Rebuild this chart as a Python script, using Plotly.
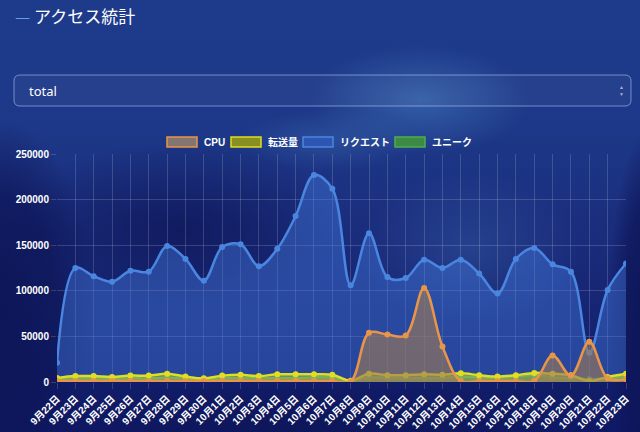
import base64
import plotly.graph_objects as go

# ---------------- data ----------------
dates = ["9月22日", "9月23日", "9月24日", "9月25日", "9月26日", "9月27日", "9月28日", "9月29日",
         "9月30日", "10月1日", "10月2日", "10月3日", "10月4日", "10月5日", "10月6日", "10月7日",
         "10月8日", "10月9日", "10月10日", "10月11日", "10月12日", "10月13日", "10月14日", "10月15日",
         "10月16日", "10月17日", "10月18日", "10月19日", "10月20日", "10月21日", "10月22日", "10月23日"]

cpu = [1500, 1000, 1000, 1000, 1000, 1000, 1000, 1000, 1000, 1000, 1000, 1000, 1000, 1000, 1000, 1000,
       500, 54000, 52000, 51000, 103000, 39000, 1000, 1000, 1000, 1000, 1000, 29000, 7000, 44000, 4000, 3000]

transfer = [4500, 6500, 6500, 5500, 7000, 7000, 9000, 6000, 4000, 7000, 8000, 6500, 8500, 8500, 8500, 8000,
            1500, 9000, 7500, 7500, 8500, 8000, 9500, 7500, 6000, 7500, 10000, 9000, 7500, 1000, 5500, 9000]

requests = [21000, 125000, 116000, 110000, 122000, 121000, 149000, 135000, 111000, 148000, 151000, 127000,
            146000, 182000, 227000, 212000, 106000, 163000, 115000, 114000, 134000, 125000, 134000, 119000,
            97000, 135000, 147000, 129000, 121000, 32000, 101000, 130000]

unique = [3000, 4000, 4000, 3500, 4000, 4000, 5000, 4000, 2500, 4000, 4500, 4000, 4500, 4500, 5000, 5000,
          1000, 5000, 4500, 4000, 4500, 4500, 6000, 5000, 4500, 6000, 8000, 5000, 4500, 3000, 4000, 6000]

y_ticks = [0, 50000, 100000, 150000, 200000, 250000]
series_names = ["CPU", "転送量", "リクエスト", "ユニーク"]

# ---------------- geometry ----------------
W, H = 640, 432
L, R, T, B = 57, 14, 154, 50
PW, PH = W - L - R, H - T - B


def px(x):
    return (x - L) / PW


def py(y):
    return (H - B - y) / PH


# ---------------- background image ----------------
svg = f'''<svg xmlns="http://www.w3.org/2000/svg" width="{W}" height="{H}" viewBox="0 0 {W} {H}">
<defs>
<linearGradient id="g0" x1="0" y1="0" x2="0" y2="1">
<stop offset="0" stop-color="#1e3b8b"/>
<stop offset="0.3" stop-color="#1d3888"/>
<stop offset="0.55" stop-color="#1a2c7c"/>
<stop offset="0.85" stop-color="#131f6c"/>
<stop offset="1" stop-color="#0f1864"/>
</linearGradient>
<radialGradient id="lt"><stop offset="0" stop-color="#4f8ccc" stop-opacity="0.45"/><stop offset="1" stop-color="#4f8ccc" stop-opacity="0"/></radialGradient>
<radialGradient id="dk"><stop offset="0" stop-color="#0e1658" stop-opacity="0.8"/><stop offset="1" stop-color="#0e1658" stop-opacity="0"/></radialGradient>
<radialGradient id="dk2"><stop offset="0" stop-color="#0d1556" stop-opacity="0.95"/><stop offset="0.6" stop-color="#0d1556" stop-opacity="0.7"/><stop offset="1" stop-color="#0d1556" stop-opacity="0"/></radialGradient>
</defs>
<rect width="{W}" height="{H}" fill="url(#g0)"/>
<ellipse cx="0" cy="310" rx="95" ry="190" fill="url(#dk2)"/>
<ellipse cx="648" cy="320" rx="40" ry="190" fill="url(#dk2)"/>
<ellipse cx="180" cy="230" rx="170" ry="90" fill="url(#dk)"/>
<ellipse cx="420" cy="100" rx="110" ry="55" fill="url(#lt)"/>
<ellipse cx="330" cy="140" rx="90" ry="30" fill="url(#lt)" opacity="0.6"/>
<ellipse cx="470" cy="250" rx="110" ry="80" fill="url(#lt)" opacity="0.5"/>
<ellipse cx="300" cy="425" rx="300" ry="45" fill="url(#dk)"/>
</svg>'''
bg_uri = "data:image/svg+xml;base64," + base64.b64encode(svg.encode("utf-8")).decode("ascii")

# ---------------- traces ----------------
styles = {
    "CPU": dict(line="#e8954a", fill="rgba(157,122,87,0.62)", box="#857571"),
    "転送量": dict(line="#dede22", fill="rgba(200,205,20,0.45)", box="#8a8f22"),
    "リクエスト": dict(line="#4a86e0", fill="rgba(70,125,225,0.42)", box="#2c56b2"),
    "ユニーク": dict(line="#4caf50", fill="rgba(76,175,80,0.55)", box="#3c8a44"),
}
data_map = {"CPU": cpu, "転送量": transfer, "リクエスト": requests, "ユニーク": unique}

fig = go.Figure()
for name in ["ユニーク", "リクエスト", "転送量", "CPU"]:
    st = styles[name]
    fig.add_trace(go.Scatter(
        x=dates, y=data_map[name], name=name, mode="lines+markers",
        line=dict(color=st["line"], width=2.5, shape="spline", smoothing=1.0),
        marker=dict(color=st["line"], size=6),
        fill="tozeroy", fillcolor=st["fill"], showlegend=False,
        hoverinfo="x+y+name",
    ))

font_main = "Liberation Sans, Noto Sans CJK JP, sans-serif"

shapes = []
annotations = []

# title
annotations.append(dict(
    x=px(13), y=py(16), xref="paper", yref="paper", xanchor="left", yanchor="middle",
    text="<span style='color:#5ba3e8'>—</span> アクセス統計", showarrow=False,
    font=dict(family="Noto Sans CJK JP", size=17, color="#ffffff"),
))

# dropdown box (rounded rect)
x0, y0, x1, y1, r = 14, 75, 631, 106, 6
path = (f"M {px(x0 + r)},{py(y0)} L {px(x1 - r)},{py(y0)} Q {px(x1)},{py(y0)} {px(x1)},{py(y0 + r)} "
        f"L {px(x1)},{py(y1 - r)} Q {px(x1)},{py(y1)} {px(x1 - r)},{py(y1)} "
        f"L {px(x0 + r)},{py(y1)} Q {px(x0)},{py(y1)} {px(x0)},{py(y1 - r)} "
        f"L {px(x0)},{py(y0 + r)} Q {px(x0)},{py(y0)} {px(x0 + r)},{py(y0)} Z")
shapes.append(dict(type="path", path=path, xref="paper", yref="paper",
                   fillcolor="rgba(255,255,255,0.04)", line=dict(color="rgba(190,205,255,0.55)", width=1),
                   layer="above"))
annotations.append(dict(x=px(27), y=py(90.5), xref="paper", yref="paper", xanchor="left", yanchor="middle",
                        text="total", showarrow=False,
                        font=dict(family="Noto Sans, sans-serif", size=13, color="#ffffff")))
annotations.append(dict(x=px(621), y=py(87.5), xref="paper", yref="paper", xanchor="center", yanchor="middle",
                        text="▲", showarrow=False, font=dict(size=5, color="rgba(255,255,255,0.6)")))
annotations.append(dict(x=px(621), y=py(93.5), xref="paper", yref="paper", xanchor="center", yanchor="middle",
                        text="▼", showarrow=False, font=dict(size=5, color="rgba(255,255,255,0.6)")))

# manual legend
legend_pos = {"CPU": 167, "転送量": 231, "リクエスト": 303, "ユニーク": 395}
for name in series_names:
    bx = legend_pos[name]
    st = styles[name]
    shapes.append(dict(type="rect", xref="paper", yref="paper",
                       x0=px(bx), x1=px(bx + 30), y0=py(147), y1=py(137),
                       fillcolor=st["box"], line=dict(color=st["line"], width=1.5), layer="above"))
    annotations.append(dict(x=px(bx + 35), y=py(142), xref="paper", yref="paper", xanchor="left",
                            yanchor="middle", text=name, showarrow=False,
                            font=dict(family=font_main, size=10, color="#ffffff", weight="bold")))

fig.update_layout(
    width=W, height=H,
    margin=dict(l=L, r=R, t=T, b=B, pad=0, autoexpand=False),
    paper_bgcolor="#1a2c7c",
    plot_bgcolor="rgba(0,0,0,0)",
    images=[dict(source=bg_uri, xref="paper", yref="paper",
                 x=-L / PW, y=1 + T / PH, sizex=W / PW, sizey=H / PH,
                 xanchor="left", yanchor="top", sizing="stretch", layer="below")],
    shapes=shapes,
    annotations=annotations,
    showlegend=False,
    xaxis=dict(
        type="category", range=[0, len(dates) - 1], automargin=False,
        showgrid=True, gridcolor="rgba(255,255,255,0.16)", gridwidth=1,
        zeroline=False, showline=False,
        ticks="outside", ticklen=6, tickcolor="rgba(255,255,255,0.16)",
        tickangle=-45,
        tickfont=dict(family=font_main, size=10, color="#ffffff", weight="bold"),
    ),
    yaxis=dict(
        range=[0, 250000], tickvals=y_ticks, ticktext=[str(v) for v in y_ticks], automargin=False,
        showgrid=True, gridcolor="rgba(255,255,255,0.16)", gridwidth=1,
        zeroline=False, showline=False,
        ticks="outside", ticklen=5, tickcolor="rgba(255,255,255,0.16)",
        tickfont=dict(family=font_main, size=10, color="#ffffff", weight="bold"),
    ),
)

fig.write_html("out.html")
